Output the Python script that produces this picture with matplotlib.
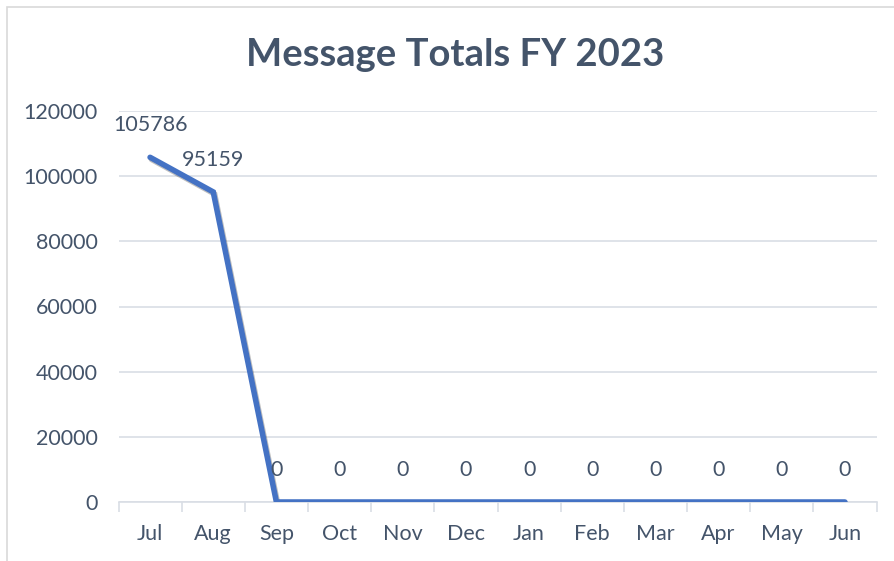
import matplotlib
matplotlib.use("Agg")
import matplotlib.pyplot as plt
import matplotlib.patheffects as pe
import numpy as np

months = ["Jul", "Aug", "Sep", "Oct", "Nov", "Dec", "Jan", "Feb", "Mar", "Apr", "May", "Jun"]
totals = [105786, 95159, 0, 0, 0, 0, 0, 0, 0, 0, 0, 0]
yticks = [0, 20000, 40000, 60000, 80000, 100000, 120000]

plt.rcParams['font.family'] = ['Lato', 'DejaVu Sans']
text_color = "#44546A"
grid_color = "#D9DEE5"

fig = plt.figure(figsize=(8.94, 5.61), dpi=100)
ax = fig.add_axes([118.5/894, (561-502)/561, (876.5-118.5)/894, (502-111)/561])

x = np.arange(len(months))
ax.plot(x, totals, color="#4472C4", lw=4.0, solid_capstyle="round", solid_joinstyle="miter",
        path_effects=[pe.SimpleLineShadow(offset=(1, -1.5), alpha=0.25), pe.Normal()], zorder=3)

for xi, v in zip(x, totals):
    ax.annotate(f"{v}", (xi, v), xytext=(0, 23), textcoords="offset points",
                ha="center", va="center", fontsize=15.5, color=text_color)

ax.set_xlim(-0.5, len(months) - 0.5)
ax.set_ylim(0, 120000)
ax.set_yticks(yticks)
ax.set_yticklabels([str(t) for t in yticks])
ax.set_xticks(x)
ax.set_xticklabels(months)
ax.set_xticks(np.arange(-0.5, len(months)), minor=True)
ax.tick_params(axis="x", which="major", length=0, pad=16, labelsize=15.5, labelcolor=text_color)
ax.tick_params(axis="x", which="minor", length=7, width=1.2, color=grid_color)
ax.tick_params(axis="y", length=0, pad=15, labelsize=15.5, labelcolor=text_color)
ax.grid(axis="y", color=grid_color, lw=1.2)
ax.set_axisbelow(True)
for s in ["top", "right", "left"]:
    ax.spines[s].set_visible(False)
ax.spines["bottom"].set_color(grid_color)
ax.spines["bottom"].set_linewidth(1.2)

fig.text(455/894, 1 - 55/561, "Message Totals FY 2023", ha="center", va="center",
         fontsize=27.5, fontweight="bold", color=text_color)

# chart border
fig.patches.append(plt.Rectangle((6.5/894, -0.1), 1.2, (561-6.5)/561 + 0.1, transform=fig.transFigure,
                                 fill=False, edgecolor="#D9D9D9", lw=1.2))

fig.savefig("out.png", dpi=100)
